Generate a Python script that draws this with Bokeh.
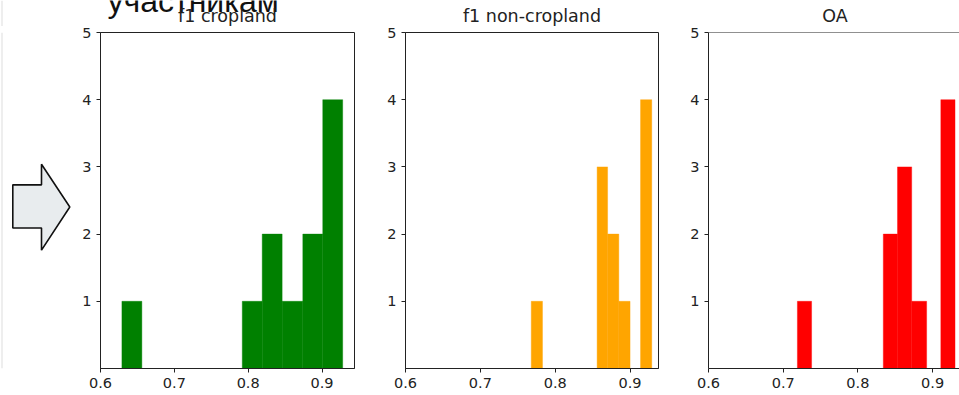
from bokeh.plotting import figure
from bokeh.layouts import row, column
from bokeh.models import Range1d, FixedTicker, Span
from bokeh.core.properties import value
from bokeh.embed import file_html
from bokeh.resources import INLINE

# ---- data (histograms, 11 bins each) ----
cropland_edges = [0.629, 0.656, 0.683, 0.711, 0.738, 0.765, 0.792, 0.819, 0.846, 0.874, 0.901, 0.928]
cropland_counts = [1, 0, 0, 0, 0, 0, 1, 2, 1, 2, 4]

noncrop_edges = [0.768, 0.783, 0.797, 0.812, 0.827, 0.841, 0.856, 0.870, 0.885, 0.900, 0.914, 0.929]
noncrop_counts = [1, 0, 0, 0, 0, 0, 3, 2, 1, 0, 4]

oa_edges = [0.719, 0.738, 0.757, 0.777, 0.796, 0.815, 0.834, 0.853, 0.872, 0.892, 0.911, 0.930]
oa_counts = [1, 0, 0, 0, 0, 0, 2, 3, 1, 0, 4]

titles = ["f1 cropland", "f1 non-cropland", "OA"]
colors = ["#008000", "#FFA500", "#FF0000"]
x_ticks = [0.6, 0.7, 0.8, 0.9]
y_ticks = [1, 2, 3, 4, 5]
heading = "участникам"

AX = "#222222"
FONT = "DejaVu Sans"
HEADER_H = 26
W = 959
H = 395


def bare(fig):
    fig.axis.visible = False
    fig.grid.visible = False
    fig.outline_line_color = None
    return fig


# ---- header strip: slide heading (cut at top) and the panel titles ----
header = bare(figure(width=W, height=HEADER_H, x_range=Range1d(0, W), y_range=Range1d(HEADER_H, 0),
                     output_backend="svg", toolbar_location=None, title=None,
                     min_border_left=0, min_border_right=0, min_border_top=0, min_border_bottom=0))
header.segment(x0=[1.5], y0=[0], x1=[1.5], y1=[HEADER_H], line_color="#dddddd", line_width=1)
header.text(x=[107], y=[0], text=[heading], text_font=value("Liberation Sans"),
            text_font_size=value("32px"), text_color="#111111",
            text_align="left", text_baseline="middle")
header.text(x=[227, 531.5, 834.5], y=[15.5, 15.5, 15.5], text=titles, text_font=value(FONT),
            text_font_size=value("17.5px"), text_color=AX,
            text_align="center", text_baseline="middle")

# ---- left decoration panel (arrow) ----
deco = bare(figure(width=78, height=H - HEADER_H, x_range=Range1d(0, 78), y_range=Range1d(H, HEADER_H),
                   output_backend="svg", toolbar_location=None, title=None,
                   min_border_left=0, min_border_right=0, min_border_top=0, min_border_bottom=0))
deco.segment(x0=[1.5], y0=[HEADER_H], x1=[1.5], y1=[H], line_color="#dddddd", line_width=1)
deco.patch(x=[12.3, 41, 41, 69.3, 41, 41, 12.3],
           y=[193.3, 193.3, 170.7, 217.7, 265, 240.7, 240.7],
           fill_color="#E8ECEE", line_color="#111111", line_width=1.6)


def hist_panel(edges, counts, color, width, mb_left, mb_right, x_end, outline=True):
    p = figure(width=width, height=H - HEADER_H, x_range=Range1d(0.6, x_end), y_range=Range1d(0, 5),
               output_backend="svg", toolbar_location=None, title=None,
               min_border_left=mb_left, min_border_right=mb_right,
               min_border_top=32 - HEADER_H, min_border_bottom=27)
    p.quad(left=edges[:-1], right=edges[1:], top=counts, bottom=0,
           fill_color=color, line_color=color, line_width=0.4)
    p.grid.visible = False
    for ax in (p.xaxis[0], p.yaxis[0]):
        ax.axis_line_color = AX
        ax.major_tick_line_color = AX
        ax.major_tick_out = 4
        ax.major_tick_in = 0
        ax.minor_tick_line_color = None
        ax.major_label_text_font = FONT
        ax.major_label_text_font_size = "14.5px"
        ax.major_label_text_color = AX
        ax.major_label_standoff = 5
    p.xaxis[0].ticker = FixedTicker(ticks=x_ticks)
    p.yaxis[0].ticker = FixedTicker(ticks=y_ticks)
    if outline:
        p.outline_line_color = AX
        p.outline_line_alpha = 1
    else:
        p.outline_line_color = None
        p.add_layout(Span(location=5, dimension="width", line_color=AX, line_width=1))
    return p


p1 = hist_panel(cropland_edges, cropland_counts, colors[0], 302, 22, 26, 0.944)
p2 = hist_panel(noncrop_edges, noncrop_counts, colors[1], 303, 25, 25, 0.938)
p3 = hist_panel(oa_edges, oa_counts, colors[2], 276, 25, 0, 0.936, outline=False)

layout = column(header, row(deco, p1, p2, p3, spacing=0), spacing=0)
open("out.html", "w").write(file_html(layout, INLINE))
